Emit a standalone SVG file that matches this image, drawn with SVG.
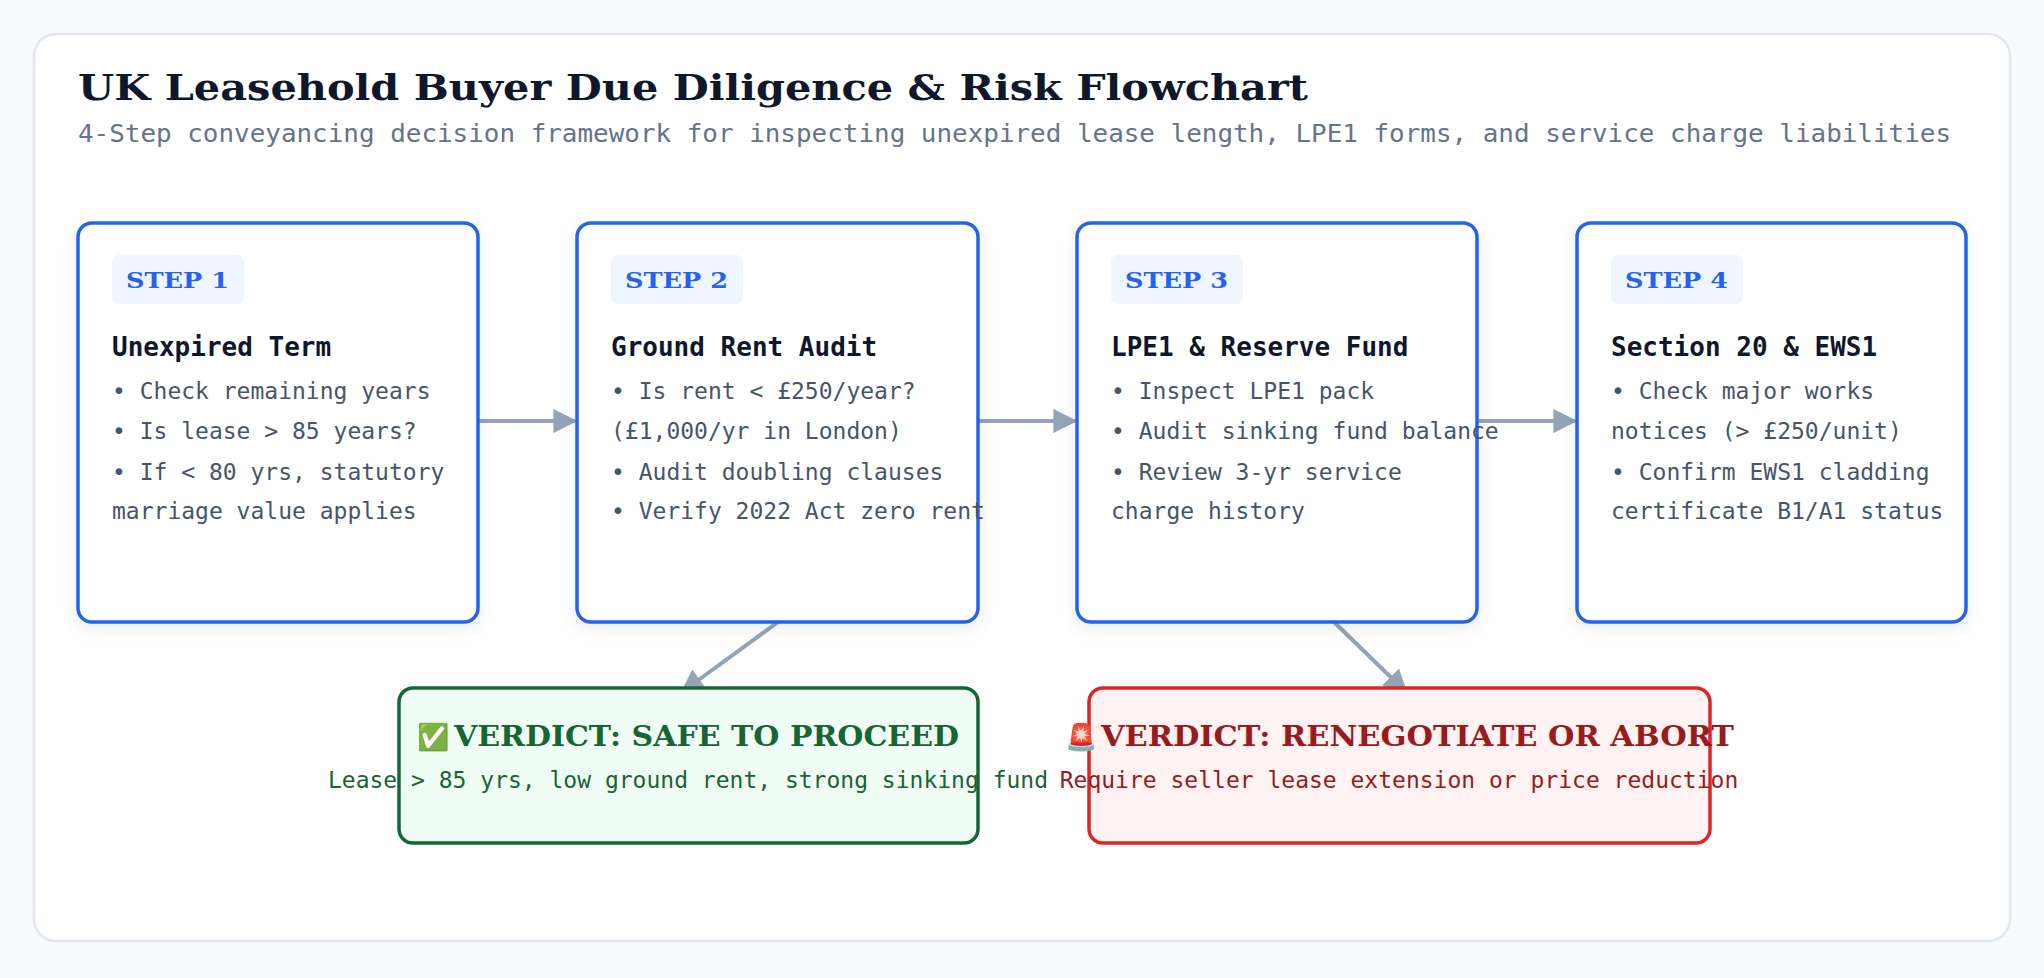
<svg xmlns="http://www.w3.org/2000/svg" width="2044" height="978" viewBox="0 0 2044 978">
<defs>
<filter id="sh" x="-10%" y="-10%" width="120%" height="130%"><feDropShadow dx="0" dy="6" stdDeviation="8" flood-color="#0f172a" flood-opacity="0.07"/></filter>
<marker id="ah" viewBox="0 0 10 10" refX="9" refY="5" markerWidth="6" markerHeight="6" orient="auto" markerUnits="strokeWidth"><path d="M0,0 L10,5 L0,10 z" fill="#94a3b8"/></marker>
<style>
.step{fill:#fff;stroke:#2563eb;stroke-width:3.5}
.badge{fill:#eff6ff}
.bt{font-family:"DejaVu Serif",serif;font-weight:900;font-size:22px;fill:#2563eb}
.hd{font-family:"DejaVu Sans Mono",monospace;font-weight:bold;font-size:26px;fill:#0f172a}
.li{font-family:"DejaVu Sans Mono",monospace;font-size:23px;fill:#475569}
.con{stroke:#94a3b8;stroke-width:4;fill:none;marker-end:url(#ah)}
.vt{font-family:"DejaVu Serif",serif;font-weight:900;font-size:27px}
.vs{font-family:"DejaVu Sans Mono",monospace;font-size:23px;text-anchor:middle}
</style>
</defs>
<rect width="2044" height="978" fill="#f8fafc"/>
<rect x="34" y="34" width="1976" height="907" rx="22" fill="#fff" stroke="#e2e8f0" stroke-width="2.5"/>
<text x="78" y="100" font-family="DejaVu Serif,serif" font-weight="900" font-size="35" fill="#0f172a" textLength="1230" lengthAdjust="spacingAndGlyphs">UK Leasehold Buyer Due Diligence &amp; Risk Flowchart</text>
<text x="78" y="142" font-family="DejaVu Sans Mono,monospace" font-size="25" fill="#64748b" textLength="1873" lengthAdjust="spacingAndGlyphs">4-Step conveyancing decision framework for inspecting unexpired lease length, LPE1 forms, and service charge liabilities</text>
<g id="connectors">
<line class="con" x1="478" y1="421" x2="575" y2="421"/>
<line class="con" x1="978" y1="421" x2="1075" y2="421"/>
<line class="con" x1="1477" y1="421" x2="1575" y2="421"/>
<line class="con" x1="778" y1="622" x2="682" y2="692"/>
<line class="con" x1="1334" y1="622" x2="1406" y2="692"/>
</g>
<g id="step1">
<rect class="step" x="78" y="223" width="400" height="399" rx="14" filter="url(#sh)"/>
<rect class="badge" x="112" y="255" width="132" height="49" rx="7"/>
<text class="bt" x="126" y="288" textLength="103" lengthAdjust="spacingAndGlyphs">STEP 1</text>
<text class="hd" x="112" y="356">Unexpired Term</text>
<text class="li" x="112" y="399">• Check remaining years</text>
<text class="li" x="112" y="439">• Is lease &gt; 85 years?</text>
<text class="li" x="112" y="480">• If &lt; 80 yrs, statutory</text>
<text class="li" x="112" y="519">marriage value applies</text>
</g>
<g id="step2">
<rect class="step" x="577" y="223" width="401" height="399" rx="14" filter="url(#sh)"/>
<rect class="badge" x="611" y="255" width="132" height="49" rx="7"/>
<text class="bt" x="625" y="288" textLength="103" lengthAdjust="spacingAndGlyphs">STEP 2</text>
<text class="hd" x="611" y="356">Ground Rent Audit</text>
<text class="li" x="611" y="399">• Is rent &lt; £250/year?</text>
<text class="li" x="611" y="439">(£1,000/yr in London)</text>
<text class="li" x="611" y="480">• Audit doubling clauses</text>
<text class="li" x="611" y="519">• Verify 2022 Act zero rent</text>
</g>
<g id="step3">
<rect class="step" x="1077" y="223" width="400" height="399" rx="14" filter="url(#sh)"/>
<rect class="badge" x="1111" y="255" width="132" height="49" rx="7"/>
<text class="bt" x="1125" y="288" textLength="103" lengthAdjust="spacingAndGlyphs">STEP 3</text>
<text class="hd" x="1111" y="356">LPE1 &amp; Reserve Fund</text>
<text class="li" x="1111" y="399">• Inspect LPE1 pack</text>
<text class="li" x="1111" y="439">• Audit sinking fund balance</text>
<text class="li" x="1111" y="480">• Review 3-yr service</text>
<text class="li" x="1111" y="519">charge history</text>
</g>
<g id="step4">
<rect class="step" x="1577" y="223" width="389" height="399" rx="14" filter="url(#sh)"/>
<rect class="badge" x="1611" y="255" width="132" height="49" rx="7"/>
<text class="bt" x="1625" y="288" textLength="103" lengthAdjust="spacingAndGlyphs">STEP 4</text>
<text class="hd" x="1611" y="356">Section 20 &amp; EWS1</text>
<text class="li" x="1611" y="399">• Check major works</text>
<text class="li" x="1611" y="439">notices (&gt; £250/unit)</text>
<text class="li" x="1611" y="480">• Confirm EWS1 cladding</text>
<text class="li" x="1611" y="519">certificate B1/A1 status</text>
</g>
<g id="verdict-safe">
<rect x="399" y="688" width="579" height="155" rx="14" fill="#f0fdf4" stroke="#166534" stroke-width="3.5"/>
<text x="417" y="746" font-family="DejaVu Sans,sans-serif" font-size="26" fill="#166534">✅</text>
<text class="vt" x="454" y="746" fill="#166534" textLength="505" lengthAdjust="spacingAndGlyphs">VERDICT: SAFE TO PROCEED</text>
<text class="vs" x="688" y="788" fill="#166534">Lease &gt; 85 yrs, low ground rent, strong sinking fund</text>
</g>
<g id="verdict-abort">
<rect x="1089" y="688" width="621" height="155" rx="14" fill="#fef2f2" stroke="#dc2626" stroke-width="3.5"/>
<text x="1065" y="746" font-family="DejaVu Sans,sans-serif" font-size="26" fill="#991b1b">🚨</text>
<text class="vt" x="1101" y="746" fill="#991b1b" textLength="633" lengthAdjust="spacingAndGlyphs">VERDICT: RENEGOTIATE OR ABORT</text>
<text class="vs" x="1399" y="788" fill="#991b1b">Require seller lease extension or price reduction</text>
</g>
</svg>
